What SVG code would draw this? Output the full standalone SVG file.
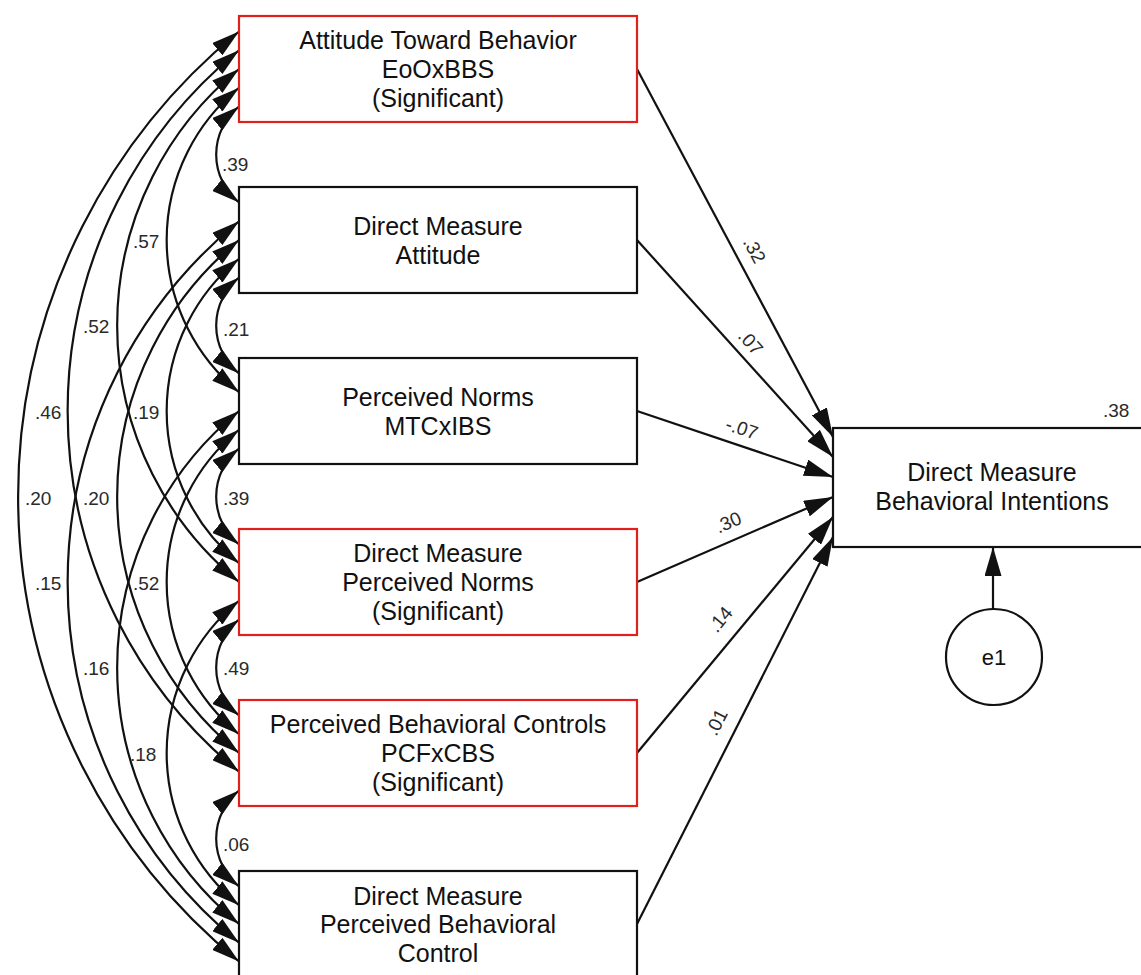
<svg xmlns="http://www.w3.org/2000/svg" width="1141" height="975" viewBox="0 0 1141 975">
  <style>
    .box { fill: #fff; stroke: #111; stroke-width: 2.2; }
    .sig { stroke: #e0201c; }
    .lbl { font-family: "Liberation Sans", Arial, sans-serif; font-size: 25px; fill: #111; text-anchor: middle; }
    .coef { font-family: "Liberation Sans", Arial, sans-serif; font-size: 19px; fill: #2a2a2a; }
    .cov { fill: none; stroke: #111; stroke-width: 2.2; marker-start: url(#ahc); marker-end: url(#ahc); }
    .path { fill: none; stroke: #111; stroke-width: 2.2; marker-end: url(#ah); }
  </style>
  <defs>
    <marker id="ah" markerUnits="userSpaceOnUse" markerWidth="29" markerHeight="17" refX="29" refY="8.5" orient="auto" viewBox="0 0 29 17">
      <path d="M0,0 L29,8.5 L0,17 z" fill="#111"/>
    </marker>
    <marker id="ahc" markerUnits="userSpaceOnUse" markerWidth="28" markerHeight="16" refX="28" refY="8" orient="auto-start-reverse" viewBox="0 0 28 16">
      <path d="M0,0 L28,8 L0,16 z" fill="#111"/>
    </marker>
  </defs>
  <rect width="1141" height="975" fill="#fff"/>

  <!-- covariances and regression paths -->
  <g id="connectors">
    <!-- adjacent pairs -->
    <path class="cov" d="M239,106.5 A61.9,61.9 0 0 0 239,202.5"/>
    <path class="cov" d="M239,277.5 A61.9,61.9 0 0 0 239,373.5"/>
    <path class="cov" d="M239,448.5 A61.9,61.9 0 0 0 239,544.5"/>
    <path class="cov" d="M239,619.5 A61.9,61.9 0 0 0 239,715.5"/>
    <path class="cov" d="M239,790.5 A61.9,61.9 0 0 0 239,886.5"/>
    <!-- two apart -->
    <path class="cov" d="M239,87.75 A196.4,196.4 0 0 0 239,392.25"/>
    <path class="cov" d="M239,258.75 A196.4,196.4 0 0 0 239,563.25"/>
    <path class="cov" d="M239,429.75 A196.4,196.4 0 0 0 239,734.25"/>
    <path class="cov" d="M239,600.75 A196.4,196.4 0 0 0 239,905.25"/>
    <!-- three apart -->
    <path class="cov" d="M239,69 A330.9,330.9 0 0 0 239,582"/>
    <path class="cov" d="M239,240 A330.9,330.9 0 0 0 239,753"/>
    <path class="cov" d="M239,411 A330.9,330.9 0 0 0 239,924"/>
    <!-- four apart -->
    <path class="cov" d="M239,50.25 A465.4,465.4 0 0 0 239,771.75"/>
    <path class="cov" d="M239,221.25 A465.4,465.4 0 0 0 239,942.75"/>
    <!-- five apart -->
    <path class="cov" d="M239,31.5 A599.9,599.9 0 0 0 239,961.5"/>

    <!-- regression paths -->
    <line class="path" x1="637" y1="69" x2="833" y2="437"/>
    <line class="path" x1="637" y1="240" x2="833" y2="457"/>
    <line class="path" x1="637" y1="411" x2="833" y2="477"/>
    <line class="path" x1="637" y1="582" x2="833" y2="497"/>
    <line class="path" x1="637" y1="753" x2="833" y2="517"/>
    <line class="path" x1="637" y1="924" x2="833" y2="537"/>
    <!-- error term -->
    <line class="path" x1="993" y1="609" x2="993" y2="547"/>
  </g>

  <!-- correlation estimates -->
  <g id="cov-labels" class="coef">
    <text x="222" y="171">.39</text>
    <text x="223" y="336">.21</text>
    <text x="223" y="505">.39</text>
    <text x="223" y="675">.49</text>
    <text x="223" y="851">.06</text>
    <text x="133" y="248">.57</text>
    <text x="133" y="419">.19</text>
    <text x="133" y="590">.52</text>
    <text x="130" y="761">.18</text>
    <text x="83" y="333">.52</text>
    <text x="83" y="505">.20</text>
    <text x="83" y="675">.16</text>
    <text x="35" y="419">.46</text>
    <text x="35" y="590">.15</text>
    <text x="25" y="505">.20</text>
  </g>

  <!-- regression weights -->
  <g id="path-labels" class="coef" text-anchor="middle">
    <text transform="translate(755,250) rotate(62)" y="7">.32</text>
    <text transform="translate(751,342) rotate(48)" y="7">.07</text>
    <text transform="translate(742,428) rotate(18.6)" y="7">-.07</text>
    <text transform="translate(728,522) rotate(-23.4)" y="7">.30</text>
    <text transform="translate(720,619) rotate(-50.3)" y="7">.14</text>
    <text transform="translate(716,722) rotate(-63.1)" y="7">.01</text>
  </g>

  <g id="attitude-ebbs">
    <rect class="box sig" x="239" y="16" width="398" height="106"/>
    <text class="lbl" x="438" y="49">Attitude Toward Behavior</text>
    <text class="lbl" x="438" y="78">EoOxBBS</text>
    <text class="lbl" x="438" y="107">(Significant)</text>
  </g>
  <g id="dm-attitude">
    <rect class="box" x="239" y="187" width="398" height="106"/>
    <text class="lbl" x="438" y="235">Direct Measure</text>
    <text class="lbl" x="438" y="264">Attitude</text>
  </g>
  <g id="perceived-norms">
    <rect class="box" x="239" y="358" width="398" height="106"/>
    <text class="lbl" x="438" y="406">Perceived Norms</text>
    <text class="lbl" x="438" y="435">MTCxIBS</text>
  </g>
  <g id="dm-perceived-norms">
    <rect class="box sig" x="239" y="529" width="398" height="106"/>
    <text class="lbl" x="438" y="562">Direct Measure</text>
    <text class="lbl" x="438" y="591">Perceived Norms</text>
    <text class="lbl" x="438" y="620">(Significant)</text>
  </g>
  <g id="pbc-pcfxcbs">
    <rect class="box sig" x="239" y="700" width="398" height="106"/>
    <text class="lbl" x="438" y="733">Perceived Behavioral Controls</text>
    <text class="lbl" x="438" y="762">PCFxCBS</text>
    <text class="lbl" x="438" y="791">(Significant)</text>
  </g>
  <g id="dm-pbc">
    <rect class="box" x="239" y="871" width="398" height="106"/>
    <text class="lbl" x="438" y="905">Direct Measure</text>
    <text class="lbl" x="438" y="933">Perceived Behavioral</text>
    <text class="lbl" x="438" y="962">Control</text>
  </g>
  <g id="dm-intentions">
    <rect class="box" x="833" y="428" width="318" height="119"/>
    <text class="lbl" x="992" y="481">Direct Measure</text>
    <text class="lbl" x="992" y="510">Behavioral Intentions</text>
    <text class="coef" x="1103" y="417">.38</text>
  </g>
  <g id="e1">
    <circle cx="994" cy="657" r="48" fill="#fff" stroke="#111" stroke-width="2.2"/>
    <text x="994" y="665" font-family="Liberation Sans, Arial, sans-serif" font-size="22" text-anchor="middle" fill="#111">e1</text>
  </g>
</svg>
